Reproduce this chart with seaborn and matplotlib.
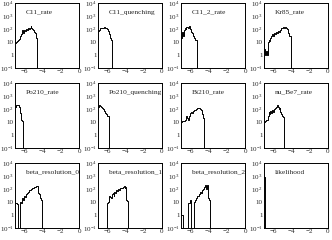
import matplotlib
matplotlib.use("Agg")
import matplotlib.pyplot as plt
import numpy as np
import pandas as pd
import seaborn as sns

# bin edges shared by every histogram (width 0.1, from -7 to 0)
x_min, x_max, bin_width = -7.0, 0.0, 0.1

names = [
    "C11_rate", "C11_quenching", "C11_2_rate", "Kr85_rate",
    "Po210_rate", "Po210_quenching", "Bi210_rate", "nu_Be7_rate",
    "beta_resolution_0", "beta_resolution_1", "beta_resolution_2", "likelihood",
]

# counts per bin, starting at the -7.0 bin; later bins are empty
c11_rate = [8, 10, 12, 15, 18, 22, 30, 40, 80, 50, 90, 70, 100, 90, 110, 100,
            130, 170, 120, 100, 80, 60, 50, 20]
c11_quenching = [70, 90, 110, 120, 130, 130, 130, 140, 130, 130, 100, 70, 40,
                 20, 15]
c11_2_rate = [20, 60, 30, 80, 120, 100, 150, 150, 130, 160, 100, 60, 50, 30,
              20, 15, 15]
kr85_rate = [3, 1, 2, 1, 10, 15, 12, 20, 30, 40, 30, 50, 40, 60, 50, 70, 60,
             80, 90, 110, 130, 150, 120, 140, 110, 100, 50, 30, 30]
po210_rate = [150, 200, 200, 200, 150, 100, 50, 15, 12]
po210_quenching = [150, 200, 180, 150, 130, 120, 100, 70, 50, 40, 30, 30]
bi210_rate = [10, 12, 12, 12, 15, 20, 30, 20, 15, 30, 50, 60, 50, 70, 80, 90,
              100, 110, 120, 130, 120, 100, 80, 40, 20]
nu_be7_rate = [10, 12, 15, 15, 30, 60, 40, 70, 50, 80, 60, 100, 120, 150, 200,
               150, 100, 120, 60, 40, 30, 25]
beta_resolution_0 = [8, 8, 7, 0, 0, 0, 10, 8, 20, 15, 30, 25, 40, 50, 60, 80,
                     90, 100, 100, 120, 130, 150, 140, 170, 160, 50, 40, 20,
                     15, 12]
beta_resolution_1 = [0, 0, 0, 0, 0, 0, 0, 0, 0, 0, 8, 10, 30, 25, 20, 40, 50,
                     30, 60, 50, 80, 70, 100, 90, 110, 120, 130, 150, 180, 120,
                     150, 15, 12]
beta_resolution_2 = [1, 1, 0, 0, 0, 0, 0, 0, 8, 8, 15, 0, 0, 0, 10, 15, 20, 25,
                     30, 30, 40, 60, 50, 80, 100, 150, 200, 100, 200, 20, 20,
                     15]
likelihood = [800]

counts = [
    c11_rate, c11_quenching, c11_2_rate, kr85_rate,
    po210_rate, po210_quenching, bi210_rate, nu_be7_rate,
    beta_resolution_0, beta_resolution_1, beta_resolution_2, likelihood,
]

y_ticks = [1e-1, 1, 10, 1e2, 1e3, 1e4]
y_tick_labels = ["$10^{-1}$", "1", "10", "$10^{2}$", "$10^{3}$", "$10^{4}$"]
x_ticks = [-6, -4, -2, 0]

sns.set_style("white")
plt.rcParams["font.family"] = ["Liberation Serif", "DejaVu Serif"]
plt.rcParams["mathtext.fontset"] = "custom"
plt.rcParams["mathtext.rm"] = "Liberation Serif"
plt.rcParams["mathtext.it"] = "Liberation Serif:italic"

edges = np.round(np.arange(x_min, x_max + bin_width / 2, bin_width), 2)
centers = edges[:-1] + bin_width / 2
n_bins = len(centers)

fig = plt.figure(figsize=(3.32, 2.40), dpi=100)
W, H = 332, 240
for i, (name, vals) in enumerate(zip(names, counts)):
    row, col = divmod(i, 4)
    left = col * 83 + 15
    top = row * 80 + 3
    ax = fig.add_axes([left / W, 1 - (top + 65) / H, 64 / W, 65 / H])
    df = pd.DataFrame({"x": centers, "w": list(vals) + [0] * (n_bins - len(vals))})
    sns.histplot(data=df, x="x", weights="w", bins=edges.tolist(), element="step",
                 fill=False, color="black", linewidth=0.7, ax=ax)
    ax.set_yscale("log")
    ax.set_xlim(x_min, x_max)
    ax.set_ylim(1e-1, 1e4)
    ax.set_xlabel("")
    ax.set_ylabel("")
    ax.set_xticks(x_ticks)
    ax.set_yticks(y_ticks)
    ax.set_yticklabels(y_tick_labels)
    ax.minorticks_off()
    ax.tick_params(direction="in", length=2, width=0.5, labelsize=5, pad=1.0)
    for s in ax.spines.values():
        s.set_linewidth(0.7)
        s.set_color("black")
    ax.text(0.17, 0.86, name, transform=ax.transAxes, fontsize=5.3, ha="left",
            va="center")

fig.savefig("out.png", dpi=100)
plt.close(fig)
